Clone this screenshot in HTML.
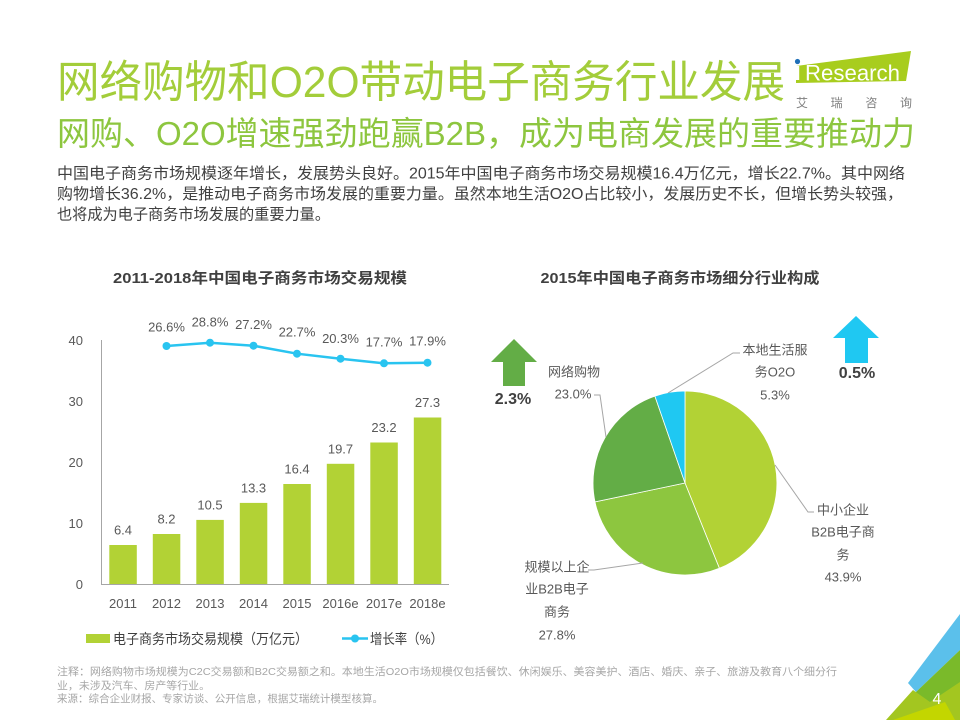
<!DOCTYPE html>
<html><head><meta charset="utf-8"><style>
html,body{margin:0;padding:0;background:#fff;}
svg{display:block;}
text{font-family:"Liberation Sans","Noto Sans CJK SC",sans-serif;}
</style></head><body>
<svg width="960" height="720" viewBox="0 0 960 720" xmlns="http://www.w3.org/2000/svg">
<rect width="960" height="720" fill="#fff"/>
<!-- Titles -->
<text x="57" y="97" font-size="44" fill="#a3cd3a" textLength="728" lengthAdjust="spacingAndGlyphs">网络购物和O2O带动电子商务行业发展</text>
<text x="57" y="145" font-size="33" fill="#8dc63f" textLength="858" lengthAdjust="spacingAndGlyphs">网购、O2O增速强劲跑赢B2B，成为电商发展的重要推动力</text>
<!-- logo -->
<polygon points="796,66 911,51 906,81 796,83" fill="#a8cd1e"/>
<circle cx="797.5" cy="61.5" r="2.6" fill="#1f6fb8"/>
<rect x="796" y="66" width="3.2" height="14" fill="#fff"/>
<text x="805" y="80.5" font-size="22" fill="#fff" textLength="95" lengthAdjust="spacingAndGlyphs">Research</text>
<text x="796" y="107" font-size="12" fill="#7f7f7f" textLength="116" lengthAdjust="spacing">艾瑞咨询</text>
<!-- body -->
<g font-size="15.5" fill="#404040">
<text x="57" y="178.5" textLength="848" lengthAdjust="spacingAndGlyphs">中国电子商务市场规模逐年增长，发展势头良好。2015年中国电子商务市场交易规模16.4万亿元，增长22.7%。其中网络</text>
<text x="57" y="199" textLength="846" lengthAdjust="spacingAndGlyphs">购物增长36.2%，是推动电子商务市场发展的重要力量。虽然本地生活O2O占比较小，发展历史不长，但增长势头较强，</text>
<text x="57" y="219.5" textLength="273" lengthAdjust="spacingAndGlyphs">也将成为电子商务市场发展的重要力量。</text>
</g>
<!-- chart titles -->
<text x="260" y="283" font-size="15" font-weight="bold" fill="#404040" text-anchor="middle" textLength="294" lengthAdjust="spacingAndGlyphs">2011-2018年中国电子商务市场交易规模</text>
<text x="680" y="283" font-size="15" font-weight="bold" fill="#404040" text-anchor="middle" textLength="279" lengthAdjust="spacingAndGlyphs">2015年中国电子商务市场细分行业构成</text>
<!-- left chart axes -->
<line x1="101.5" y1="340" x2="101.5" y2="584.5" stroke="#a6a6a6" stroke-width="1"/>
<line x1="101" y1="584.5" x2="449" y2="584.5" stroke="#a6a6a6" stroke-width="1"/>
<g font-size="13" fill="#595959" text-anchor="end">
<text x="83" y="345">40</text>
<text x="83" y="406">30</text>
<text x="83" y="467">20</text>
<text x="83" y="528">10</text>
<text x="83" y="589">0</text>
</g>
<!-- bars -->
<g fill="#b2d235">
<rect x="109.3" y="545" width="27.5" height="39"/>
<rect x="152.8" y="534" width="27.5" height="50"/>
<rect x="196.3" y="519.9" width="27.5" height="64.1"/>
<rect x="239.8" y="502.9" width="27.5" height="81.1"/>
<rect x="283.3" y="484" width="27.5" height="100"/>
<rect x="326.8" y="463.8" width="27.5" height="120.2"/>
<rect x="370.3" y="442.5" width="27.5" height="141.5"/>
<rect x="413.8" y="417.5" width="27.5" height="166.5"/>
</g>
<g font-size="13" fill="#595959" text-anchor="middle">
<text x="123" y="534.5">6.4</text>
<text x="166.5" y="523.5">8.2</text>
<text x="210" y="509.5">10.5</text>
<text x="253.5" y="492.5">13.3</text>
<text x="297" y="473.5">16.4</text>
<text x="340.5" y="453.5">19.7</text>
<text x="384" y="432">23.2</text>
<text x="427.5" y="407">27.3</text>
<text x="123" y="608">2011</text>
<text x="166.5" y="608">2012</text>
<text x="210" y="608">2013</text>
<text x="253.5" y="608">2014</text>
<text x="297" y="608">2015</text>
<text x="340.5" y="608">2016e</text>
<text x="384" y="608">2017e</text>
<text x="427.5" y="608">2018e</text>
<text x="166.5" y="331.5">26.6%</text>
<text x="210" y="326.5">28.8%</text>
<text x="253.5" y="329">27.2%</text>
<text x="297" y="336.5">22.7%</text>
<text x="340.5" y="343">20.3%</text>
<text x="384" y="346.5">17.7%</text>
<text x="427.5" y="345.5">17.9%</text>
</g>
<polyline points="166.5,346 210,342.7 253.5,345.7 297,353.7 340.5,358.7 384,363.3 427.5,362.7" fill="none" stroke="#29c4f0" stroke-width="2.5"/>
<g fill="#29c4f0">
<circle cx="166.5" cy="346" r="4"/>
<circle cx="210" cy="342.7" r="4"/>
<circle cx="253.5" cy="345.7" r="4"/>
<circle cx="297" cy="353.7" r="4"/>
<circle cx="340.5" cy="358.7" r="4"/>
<circle cx="384" cy="363.3" r="4"/>
<circle cx="427.5" cy="362.7" r="4"/>
</g>
<!-- legend -->
<rect x="86" y="634" width="24" height="9" fill="#b2d235"/>
<text x="113" y="644" font-size="14" fill="#404040" textLength="195" lengthAdjust="spacingAndGlyphs">电子商务市场交易规模（万亿元）</text>
<line x1="342" y1="638.5" x2="368" y2="638.5" stroke="#29c4f0" stroke-width="2.5"/>
<circle cx="355" cy="638.5" r="4" fill="#29c4f0"/>
<text x="370" y="644" font-size="14" fill="#404040" textLength="73" lengthAdjust="spacingAndGlyphs">增长率（%）</text>
<!-- pie -->
<g stroke="#fff" stroke-width="0.8">
<path d="M685,483 L685,391 A92,92 0 0 1 719.4,568.3 Z" fill="#b2d235"/>
<path d="M685,483 L719.4,568.3 A92,92 0 0 1 595,501.9 Z" fill="#8dc63f"/>
<path d="M685,483 L595,501.9 A92,92 0 0 1 654.9,396.1 Z" fill="#63ad46"/>
<path d="M685,483 L654.9,396.1 A92,92 0 0 1 685,391 Z" fill="#1fc8f2"/>
</g>
<g fill="none" stroke="#a6a6a6" stroke-width="1">
<polyline points="668,393 733,353 740,353"/>
<polyline points="606,437 600,395 594,395"/>
<polyline points="775,465 808,512 814,512"/>
<polyline points="643,563 594,570 588,570"/>
</g>
<g font-size="13" fill="#595959" text-anchor="middle">
<text x="574" y="376.5">网络购物</text>
<text x="573" y="398.5">23.0%</text>
<text x="775" y="354.5">本地生活服</text>
<text x="775" y="376.5">务O2O</text>
<text x="775" y="399.5">5.3%</text>
<text x="843" y="514.5">中小企业</text>
<text x="843" y="536.5">B2B电子商</text>
<text x="843" y="559.5">务</text>
<text x="843" y="581.5">43.9%</text>
<text x="557" y="571.5">规模以上企</text>
<text x="557" y="593.5">业B2B电子</text>
<text x="557" y="616.5">商务</text>
<text x="557" y="639.5">27.8%</text>
</g>
<!-- arrows -->
<polygon points="514,339 537,362 525,362 525,386 503,386 503,362 491,362" fill="#63ad46"/>
<text x="513" y="404" font-size="16" font-weight="bold" fill="#404040" text-anchor="middle">2.3%</text>
<polygon points="856,316 879,338 868,338 868,363 845,363 845,338 833,338" fill="#1fc8f2"/>
<text x="857" y="378" font-size="16" font-weight="bold" fill="#404040" text-anchor="middle">0.5%</text>
<!-- footnote -->
<g font-size="10.5" fill="#a6a6a6">
<text x="57" y="675" textLength="780" lengthAdjust="spacingAndGlyphs">注释：网络购物市场规模为C2C交易额和B2C交易额之和。本地生活O2O市场规模仅包括餐饮、休闲娱乐、美容美护、酒店、婚庆、亲子、旅游及教育八个细分行</text>
<text x="57" y="689" textLength="153" lengthAdjust="spacingAndGlyphs">业，未涉及汽车、房产等行业。</text>
<text x="57" y="702" textLength="326" lengthAdjust="spacingAndGlyphs">来源：综合企业财报、专家访谈、公开信息，根据艾瑞统计模型核算。</text>
</g>
<!-- bottom-right decoration -->
<polygon points="908,683 960,614 960,650 916,692" fill="#5bc0eb"/>
<polygon points="916,692 960,650 960,720 900,720" fill="#7aba2a"/>
<polygon points="886,720 913,690 930,702 960,682 960,720" fill="#a3c620"/>
<polygon points="893,720 945,702 955,720" fill="#c3d600"/>
<text x="937" y="704" font-size="16" fill="#fff" text-anchor="middle">4</text>
</svg>
</body></html>
